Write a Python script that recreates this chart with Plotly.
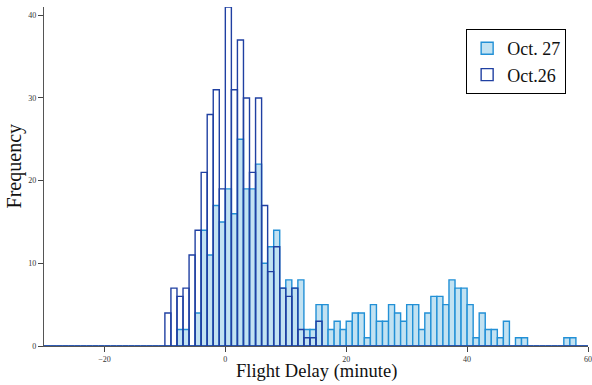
import plotly.graph_objects as go

# Histogram bins: 1-minute wide, left edges from -30 to 59
bin_lefts = list(range(-30, 60))

# Oct.26 counts, starting at bin [-10, -9)
oct26_start = -10
oct26_counts = [4, 7, 6, 7, 11, 14, 21, 28, 31, 19, 41, 31, 37, 30, 21, 30,
                17, 9, 12, 7, 6, 7, 2, 1, 1, 3]

# Oct. 27 counts, starting at bin [-8, -7)
oct27_start = -8
oct27_counts = [2, 2, 0, 4, 14, 11, 17, 15, 19, 16, 25, 19, 19, 22, 10, 12,
                14, 7, 8, 7, 8, 2, 2, 5, 5, 2, 3, 2, 3, 4, 4, 1, 5, 3, 3, 5,
                4, 3, 5, 5, 2, 4, 6, 6, 5, 8, 7, 7, 5, 1, 4, 2, 2, 1, 3, 0,
                1, 1, 0, 0, 0, 0, 0, 0, 1, 1]

x_tickvals = [-20, 0, 20, 40, 60]
y_tickvals = [0, 10, 20, 30, 40]


def pad(start, counts):
    full = []
    for b in bin_lefts:
        i = b - start
        full.append(counts[i] if 0 <= i < len(counts) else 0)
    return full


centers = [b + 0.5 for b in bin_lefts]

fig = go.Figure()
fig.add_trace(go.Bar(
    x=centers, y=pad(oct27_start, oct27_counts), width=1,
    name="Oct. 27",
    marker=dict(color="#c2e2f2", line=dict(color="#2290d6", width=1.4)),
))
fig.add_trace(go.Bar(
    x=centers, y=pad(oct26_start, oct26_counts), width=1,
    name="Oct.26",
    marker=dict(color="rgba(255,255,255,0)", line=dict(color="#2040a2", width=1.4)),
))

serif = "Liberation Serif, Times New Roman, serif"

fig.update_layout(
    width=592, height=385,
    margin=dict(l=44, r=4, t=7, b=39),
    barmode="overlay",
    paper_bgcolor="white", plot_bgcolor="white",
    font=dict(family=serif, color="#222"),
    showlegend=True,
    legend=dict(
        x=0.776, y=0.935, xanchor="left", yanchor="top",
        bgcolor="white", bordercolor="black", borderwidth=1,
        font=dict(family=serif, size=18, color="#111"),
        itemwidth=30,
    ),
    xaxis=dict(
        range=[-30, 60], tickvals=x_tickvals, ticks="outside", ticklen=5,
        tickwidth=1, tickcolor="#444", showline=True, linecolor="#555",
        linewidth=1.3, showgrid=False, zeroline=False,
        tickfont=dict(family=serif, size=8, color="#333"),
        automargin=False,
    ),
    yaxis=dict(
        range=[0, 41], tickvals=y_tickvals, ticks="outside", ticklen=5,
        tickwidth=1, tickcolor="#444", showline=True, linecolor="#555",
        linewidth=1.3, showgrid=False, zeroline=False,
        tickfont=dict(family=serif, size=8, color="#333"),
        automargin=False,
    ),
    annotations=[
        dict(text="Flight Delay (minute)", xref="paper", yref="paper",
             x=0.5, y=-0.074, xanchor="center", yanchor="middle",
             showarrow=False, font=dict(family=serif, size=18.5, color="#111")),
        dict(text="Frequency", xref="paper", yref="paper",
             x=-0.055, y=0.53, xanchor="center", yanchor="middle",
             textangle=-90, showarrow=False,
             font=dict(family=serif, size=20, color="#111")),
    ],
)

fig.write_html("out.html", config={"displayModeBar": False},
               post_script="document.body.style.margin='0';")
